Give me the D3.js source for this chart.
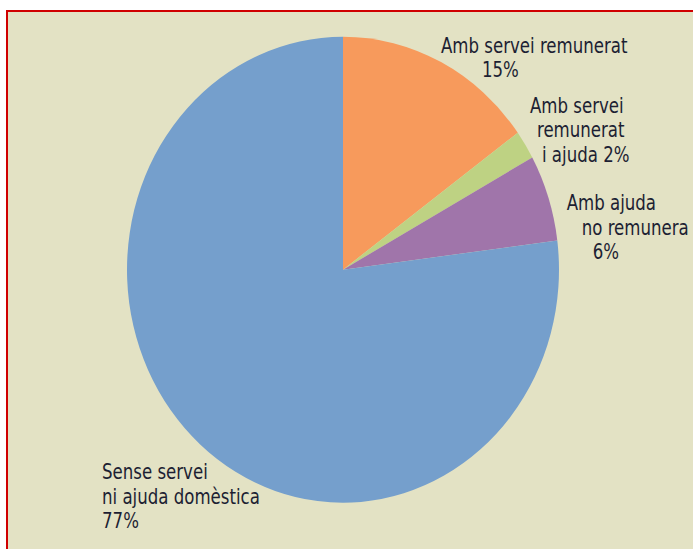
<!DOCTYPE html>
<html>
<head>
<meta charset="utf-8">
<script src="https://cdn.jsdelivr.net/npm/d3@7"></script>
<style>
  html, body { margin: 0; padding: 0; background: #fff; }
  svg { display: block; }
  .lbl { font-family: "DejaVu Sans Condensed", "DejaVu Sans", sans-serif; font-stretch: condensed; font-size: 20.5px; fill: #1d1f33; }
</style>
</head>
<body>
<div id="chart"></div>
<script>
// data
var categories = ["Amb servei remunerat", "Amb servei remunerat i ajuda", "Amb ajuda no remunera", "Sense servei ni ajuda domèstica"];
var values = [15, 2, 6, 77];
var colors = ["#f79a5c", "#bed283", "#a075aa", "#759fcc"];
var labelLines = [
  ["Amb servei remunerat", "15%"],
  ["Amb servei", "remunerat", "i ajuda 2%"],
  ["Amb ajuda", "no remunera", "6%"],
  ["Sense servei", "ni ajuda domèstica", "77%"]
];

var width = 693, height = 549;
var cx = 343, cy = 269.7, rx = 216, ry = 233;
var squeeze = 0.9; // the original face is narrower than DejaVu Condensed

var svg = d3.select("#chart").append("svg")
    .attr("width", width)
    .attr("height", height);

// panel with red frame
svg.append("rect")
    .attr("x", 7).attr("y", 11)
    .attr("width", width + 10).attr("height", height + 10)
    .attr("fill", "#e3e2c4")
    .attr("stroke", "#d00000")
    .attr("stroke-width", 2);

var pie = d3.pie().sort(null).value(function(d) { return d; });
var arc = d3.arc().innerRadius(0).outerRadius(rx);
var arcs = pie(values);

var g = svg.append("g")
    .attr("transform", "translate(" + cx + "," + cy + ") scale(1," + (ry / rx) + ")");

g.selectAll("path")
    .data(arcs)
    .enter().append("path")
    .attr("d", arc)
    .attr("fill", function(d, i) { return colors[i]; });

// label placement: point just outside the rim at the slice's mid angle, then per-line indents
var labelLayout = [
  { dx: -5, dy: 1, indents: [0, 41] },
  { dx: -4.5, dy: -25.6, indents: [0, 7, 12] },
  { dx: 8, dy: 16, indents: [0, 15, 26] },
  { dx: -91, dy: 26, indents: [0, 0, 0] }
];

arcs.forEach(function(a, i) {
  var mid = (a.startAngle + a.endAngle) / 2;
  var x0 = cx + Math.sin(mid) * rx * 1.05;
  var y0 = cy - Math.cos(mid) * ry * 1.05;
  var L = labelLayout[i];
  var t = svg.append("text")
      .attr("class", "lbl")
      .attr("transform", "translate(" + (x0 + L.dx) + "," + (y0 + L.dy) + ") scale(" + squeeze + ",1)");
  labelLines[i].forEach(function(line, j) {
    t.append("tspan")
      .attr("x", L.indents[j] / squeeze)
      .attr("y", j * 24.5)
      .text(line);
  });
});
</script>
</body>
</html>
